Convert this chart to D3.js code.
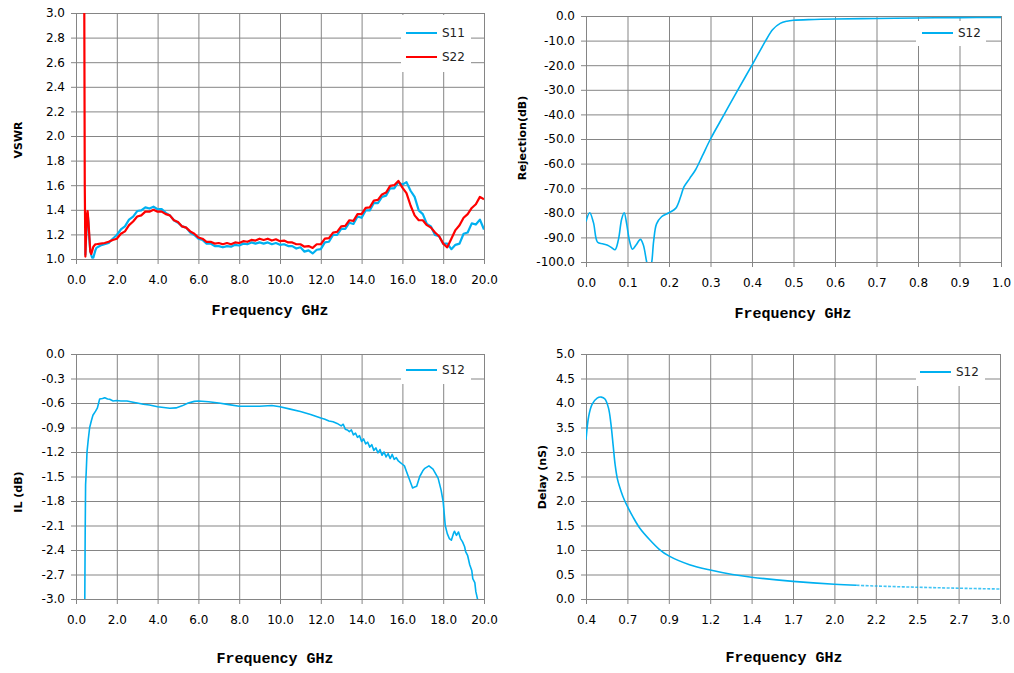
<!DOCTYPE html>
<html>
<head>
<meta charset="utf-8">
<script src="https://cdn.jsdelivr.net/npm/d3@7"></script>
<style>
  body { margin: 0; background: #fff; }
  text { font-family: "DejaVu Sans", sans-serif; }
</style>
</head>
<body>
<div id="chart"></div>
<script>
// ---- VSWR sweep (top left) ----
const vswrFreq = [0.40, 0.43, 0.46, 0.50, 0.54, 0.57, 0.61, 0.65, 0.70, 0.75, 0.80, 0.85, 0.90, 0.95, 1.0,
  1.2, 1.4, 1.6, 1.8, 2.0, 2.2, 2.4, 2.6, 2.8, 3.0, 3.2, 3.4, 3.6, 3.8, 4.0, 4.2, 4.4, 4.6, 4.8, 5.0,
  5.2, 5.4, 5.6, 5.8, 6.0, 6.2, 6.4, 6.6, 6.8, 7.0, 7.2, 7.4, 7.6, 7.8, 8.0, 8.2, 8.4, 8.6, 8.8, 9.0,
  9.2, 9.4, 9.6, 9.8, 10.0, 10.2, 10.4, 10.6, 10.8, 11.0, 11.2, 11.4, 11.6, 11.8, 12.0, 12.2, 12.4, 12.6, 12.8, 13.0,
  13.2, 13.4, 13.6, 13.8, 14.0, 14.2, 14.4, 14.6, 14.8, 15.0, 15.2, 15.4, 15.6, 15.8, 16.0, 16.2, 16.4, 16.6, 16.8, 17.0,
  17.2, 17.4, 17.6, 17.8, 18.0, 18.2, 18.4, 18.6, 18.8, 19.0, 19.2, 19.4, 19.6, 19.8, 20.0];
const s11Vswr = [null, null, 1.03, 1.20, 1.35, 1.37, 1.30, 1.17, 1.07, 1.03, 1.01, 1.01, 1.04, 1.07, 1.09,
  1.11, 1.12, 1.13, 1.165, 1.195, 1.24, 1.265, 1.32, 1.345, 1.39, 1.395, 1.42, 1.41, 1.425, 1.405, 1.405, 1.375, 1.355, 1.315, 1.295,
  1.265, 1.255, 1.215, 1.195, 1.165, 1.155, 1.125, 1.125, 1.105, 1.105, 1.095, 1.105, 1.10, 1.115, 1.11, 1.125, 1.12, 1.135, 1.125, 1.135,
  1.125, 1.135, 1.12, 1.13, 1.115, 1.12, 1.105, 1.105, 1.085, 1.095, 1.06, 1.07, 1.045, 1.075, 1.08, 1.135, 1.14, 1.195, 1.195, 1.245,
  1.245, 1.295, 1.285, 1.345, 1.335, 1.395, 1.395, 1.455, 1.455, 1.505, 1.515, 1.575, 1.575, 1.625, 1.605, 1.625, 1.555, 1.505, 1.395, 1.365,
  1.285, 1.265, 1.195, 1.185, 1.125, 1.125, 1.08, 1.115, 1.125, 1.205, 1.215, 1.29, 1.28, 1.32, 1.24];
const s22Vswr = [3.40, 1.60, 1.02, 1.22, 1.36, 1.39, 1.30, 1.20, 1.06, 1.04, 1.07, 1.10, 1.11, 1.12, 1.12,
  1.125, 1.13, 1.14, 1.155, 1.165, 1.205, 1.225, 1.275, 1.305, 1.345, 1.355, 1.385, 1.385, 1.40, 1.385, 1.385, 1.365, 1.355, 1.315, 1.30,
  1.265, 1.255, 1.225, 1.205, 1.175, 1.165, 1.14, 1.14, 1.125, 1.13, 1.12, 1.13, 1.12, 1.135, 1.13, 1.145, 1.14, 1.155, 1.15, 1.165,
  1.155, 1.165, 1.15, 1.16, 1.145, 1.15, 1.135, 1.135, 1.12, 1.12, 1.10, 1.105, 1.09, 1.12, 1.12, 1.165, 1.17, 1.215, 1.22, 1.265,
  1.27, 1.315, 1.31, 1.365, 1.365, 1.415, 1.42, 1.475, 1.48, 1.525, 1.54, 1.595, 1.60, 1.635, 1.58, 1.535, 1.435, 1.355, 1.315, 1.315,
  1.275, 1.255, 1.215, 1.185, 1.125, 1.095, 1.165, 1.235, 1.275, 1.335, 1.365, 1.415, 1.445, 1.505, 1.485];

// ---- Rejection (top right) ----
const rejFreq = [0.000, 0.009, 0.018, 0.028, 0.040, 0.052, 0.062, 0.070, 0.078, 0.086, 0.092, 0.098, 0.105, 0.112,
  0.121, 0.131, 0.138, 0.146, 0.152, 0.158, 0.163, 0.170, 0.182, 0.200, 0.216, 0.228, 0.236, 0.250, 0.264,
  0.280, 0.300, 0.333, 0.366, 0.400, 0.433, 0.450, 0.468, 0.484, 0.500, 0.550, 0.600, 0.700, 0.800, 0.900, 1.000];
const rejS12 = [-83.5, -80.0, -84.0, -92.0, -92.6, -93.2, -94.2, -95.0, -91.0, -82.5, -80.0, -84.5, -91.5, -94.8,
  -93.0, -90.8, -93.0, -99.8, -104.0, -100.5, -91.5, -84.5, -81.6, -80.0, -78.2, -73.5, -69.5, -66.0, -62.5,
  -57.0, -50.0, -40.0, -30.0, -20.0, -10.0, -5.5, -3.0, -2.1, -1.7, -1.4, -1.2, -1.0, -0.8, -0.65, -0.55];

// ---- Insertion loss (bottom left) ----
const ilFreq = [0.43, 0.45, 0.47, 0.50, 0.54, 0.60, 0.67, 0.75, 0.83, 0.96, 1.05, 1.11, 1.16, 1.30, 1.41, 1.55, 1.65, 1.82,
  2.0, 2.2, 2.5, 2.8, 3.0, 3.3, 3.6, 4.0, 4.3, 4.6, 4.9, 5.2, 5.5, 5.8, 6.0, 6.5, 7.0, 7.5, 8.0, 8.5, 9.0, 9.6,
  10.0, 10.5, 11.0, 11.5, 12.0, 12.2, 12.4, 12.6, 12.8, 13.0, 13.1, 13.2, 13.3, 13.4, 13.5, 13.6, 13.7, 13.8, 13.9,
  14.0, 14.1, 14.2, 14.3, 14.4, 14.5, 14.6, 14.7, 14.8, 14.9, 15.0, 15.1, 15.2, 15.3, 15.4, 15.5, 15.6, 15.7, 15.8, 15.9,
  16.0, 16.1, 16.2, 16.35, 16.5, 16.6, 16.7, 16.85, 17.0, 17.1, 17.3, 17.5, 17.75, 17.9, 18.0, 18.1, 18.2, 18.3, 18.4,
  18.5, 18.55, 18.65, 18.75, 18.85, 18.95, 19.05, 19.1, 19.2, 19.3, 19.4, 19.45, 19.55, 19.6, 19.7];
const ilS12 = [-3.05, -2.2, -1.6, -1.45, -1.2, -1.05, -0.90, -0.82, -0.75, -0.70, -0.66, -0.60, -0.55, -0.545, -0.535, -0.55, -0.555, -0.575,
  -0.570, -0.575, -0.575, -0.59, -0.60, -0.615, -0.625, -0.645, -0.655, -0.665, -0.66, -0.635, -0.60, -0.58, -0.575, -0.585, -0.60, -0.62, -0.64, -0.64, -0.64, -0.63,
  -0.645, -0.675, -0.705, -0.74, -0.785, -0.80, -0.82, -0.83, -0.85, -0.88, -0.86, -0.92, -0.93, -0.95, -0.93, -0.99, -0.97, -1.02, -1.00,
  -1.07, -1.04, -1.10, -1.08, -1.14, -1.11, -1.18, -1.15, -1.21, -1.17, -1.24, -1.20, -1.26, -1.22, -1.28, -1.23, -1.29, -1.27, -1.31, -1.33,
  -1.35, -1.37, -1.44, -1.54, -1.64, -1.63, -1.62, -1.50, -1.43, -1.40, -1.37, -1.41, -1.52, -1.67, -1.81, -2.10, -2.20, -2.26, -2.28,
  -2.20, -2.17, -2.22, -2.18, -2.26, -2.30, -2.36, -2.42, -2.47, -2.58, -2.65, -2.75, -2.80, -2.91, -3.02];

// ---- Group delay (bottom right) ----
const delayFreq = [0.400, 0.417, 0.438, 0.470, 0.496, 0.519, 0.541, 0.556, 0.571, 0.583, 0.598, 0.620, 0.641, 0.660,
  0.694, 0.737, 0.800, 0.862, 0.920, 1.050, 1.180, 1.320, 1.440, 1.700, 1.960, 2.100, 2.220, 2.480, 2.740, 3.000];
const delayS12 = [3.25, 3.73, 3.97, 4.10, 4.12, 4.08, 3.90, 3.59, 3.12, 2.74, 2.44, 2.20, 2.02, 1.89,
  1.68, 1.45, 1.21, 1.01, 0.88, 0.70, 0.59, 0.50, 0.445, 0.36, 0.300, 0.28, 0.265, 0.24, 0.22, 0.204];

// ---- Tick values ----
const ghz20Ticks = [0, 2, 4, 6, 8, 10, 12, 14, 16, 18, 20];
const vswrTicks = [1.0, 1.2, 1.4, 1.6, 1.8, 2.0, 2.2, 2.4, 2.6, 2.8, 3.0];
const rejXTicks = [0, 0.1, 0.2, 0.3, 0.4, 0.5, 0.6, 0.7, 0.8, 0.9, 1.0];
const rejYTicks = [-100, -90, -80, -70, -60, -50, -40, -30, -20, -10, 0];
const ilTicks = [-3.0, -2.7, -2.4, -2.1, -1.8, -1.5, -1.2, -0.9, -0.6, -0.3, 0];
const delayXTicks = [0.4, 0.66, 0.92, 1.18, 1.44, 1.70, 1.96, 2.22, 2.48, 2.74, 3.0];
const delayYTicks = [0, 0.5, 1.0, 1.5, 2.0, 2.5, 3.0, 3.5, 4.0, 4.5, 5.0];

const BLUE = "#00b0f0";
const RED = "#ff0000";
const GRID = "#858585";

const svg = d3.select("#chart")
  .append("svg")
  .attr("width", 1014)
  .attr("height", 673);

const fmt = d => d.toFixed(1);
let clipId = 0;

// One chart panel: grid, tick labels, legend, traces and titles.
function drawPanel(p) {
  const x = d3.scaleLinear().domain(p.xDomain).range([p.left, p.right]);
  const y = d3.scaleLinear().domain(p.yDomain).range([p.bottom, p.top]);
  const h = p.bottom - p.top;
  const w = p.right - p.left;

  // Vertical grid lines + frequency labels
  const xa = svg.append("g")
    .attr("transform", `translate(0,${p.bottom + 5})`)
    .call(d3.axisBottom(x).tickValues(p.xTicks).tickFormat(fmt)
      .tickSizeInner(-(h + 5)).tickSizeOuter(0).tickPadding(11));
  // Horizontal grid lines + value labels
  const ya = svg.append("g")
    .attr("transform", `translate(${p.left - 5},0)`)
    .call(d3.axisLeft(y).tickValues(p.yTicks).tickFormat(fmt)
      .tickSizeInner(-(w + 5)).tickSizeOuter(0).tickPadding(6));
  [xa, ya].forEach(a => {
    a.select(".domain").remove();
    a.selectAll(".tick line").attr("stroke", GRID);
    a.selectAll(".tick text")
      .attr("fill", "#000")
      .style("font-size", "12px")
      .style("font-family", "'DejaVu Sans', sans-serif");
  });

  // Legend box sits over the grid
  const lg = p.legend;
  svg.append("rect")
    .attr("x", lg.x).attr("y", lg.y)
    .attr("width", lg.w).attr("height", lg.h)
    .attr("fill", "#fff");
  p.series.forEach((s, i) => {
    const ly = lg.rows[i];
    svg.append("line")
      .attr("x1", lg.lineX).attr("x2", lg.lineX + 31)
      .attr("y1", ly).attr("y2", ly)
      .attr("stroke", s.color).attr("stroke-width", 2);
    svg.append("text")
      .attr("x", lg.lineX + 36).attr("y", ly)
      .attr("dominant-baseline", "central")
      .style("font-size", "12px")
      .attr("fill", "#222")
      .text(s.name);
  });

  const id = "clip" + (clipId++);
  svg.append("clipPath").attr("id", id)
    .append("rect")
    .attr("x", p.left).attr("y", p.top)
    .attr("width", w).attr("height", h);

  const plot = svg.append("g").attr("clip-path", `url(#${id})`);
  p.series.forEach(s => {
    const pts = s.freq.map((f, i) => [f, s.values[i]]);
    const line = d3.line()
      .defined(d => d[1] !== null)
      .x(d => x(d[0]))
      .y(d => y(d[1]))
      .curve(s.curve || d3.curveLinear);
    // the sparse tail of a trace renders lighter and dotted
    const split = s.dottedFrom !== undefined ? s.dottedFrom : Infinity;
    plot.append("path")
      .datum(pts.filter(d => d[0] <= split))
      .attr("fill", "none")
      .attr("stroke", s.color)
      .attr("stroke-width", s.width)
      .attr("stroke-linejoin", "round")
      .attr("d", line);
    if (split !== Infinity) {
      plot.append("path")
        .datum(pts.filter(d => d[0] >= split))
        .attr("fill", "none")
        .attr("stroke", s.color)
        .attr("stroke-width", s.width)
        .attr("stroke-opacity", 0.75)
        .attr("stroke-dasharray", "3,1.5")
        .attr("d", line);
    }
  });

  // Axis titles
  svg.append("text")
    .attr("x", p.xTitle[0]).attr("y", p.xTitle[1])
    .attr("text-anchor", "middle")
    .style("font-family", "'Liberation Mono', 'DejaVu Sans Mono', monospace")
    .style("font-weight", "bold")
    .style("font-size", "15px")
    .text("Frequency GHz");
  svg.append("text")
    .attr("transform", `translate(${p.yTitle[0]},${p.yTitle[1]}) rotate(-90)`)
    .attr("text-anchor", "middle")
    .attr("dominant-baseline", "central")
    .style("font-weight", "bold")
    .style("font-size", "11px")
    .text(p.yLabel);
}

drawPanel({
  left: 76, right: 484, top: 13, bottom: 259,
  xDomain: [0, 20], yDomain: [1, 3], xTicks: ghz20Ticks, yTicks: vswrTicks,
  series: [
    { name: "S11", freq: vswrFreq, values: s11Vswr, color: BLUE, width: 2.2 },
    { name: "S22", freq: vswrFreq, values: s22Vswr, color: RED, width: 2.2 }
  ],
  legend: { x: 401, y: 15, w: 70, h: 57, lineX: 406, rows: [33, 57] },
  xTitle: [270, 315], yTitle: [18, 140], yLabel: "VSWR"
});

drawPanel({
  left: 586, right: 1001, top: 16, bottom: 262,
  xDomain: [0, 1], yDomain: [-100, 0], xTicks: rejXTicks, yTicks: rejYTicks,
  series: [
    { name: "S12", freq: rejFreq, values: rejS12, color: BLUE, width: 1.6, curve: d3.curveCatmullRom.alpha(0.5) }
  ],
  legend: { x: 916, y: 21, w: 70, h: 25, lineX: 922, rows: [33] },
  xTitle: [793, 318], yTitle: [522, 138], yLabel: "Rejection(dB)"
});

drawPanel({
  left: 76, right: 484, top: 354, bottom: 599,
  xDomain: [0, 20], yDomain: [-3, 0], xTicks: ghz20Ticks, yTicks: ilTicks,
  series: [
    { name: "S12", freq: ilFreq, values: ilS12, color: BLUE, width: 1.6 }
  ],
  legend: { x: 401, y: 355, w: 70, h: 29, lineX: 406, rows: [370] },
  xTitle: [275, 663], yTitle: [18, 492], yLabel: "IL (dB)"
});

drawPanel({
  left: 586, right: 1000, top: 354, bottom: 599,
  xDomain: [0.4, 3.0], yDomain: [0, 5], xTicks: delayXTicks, yTicks: delayYTicks,
  series: [
    { name: "S12", freq: delayFreq, values: delayS12, color: BLUE, width: 1.6,
      curve: d3.curveCatmullRom.alpha(0.5), dottedFrom: 2.1 }
  ],
  legend: { x: 916, y: 355, w: 69, h: 31, lineX: 920, rows: [372] },
  xTitle: [784, 662], yTitle: [542, 477], yLabel: "Delay (nS)"
});
</script>
</body>
</html>
